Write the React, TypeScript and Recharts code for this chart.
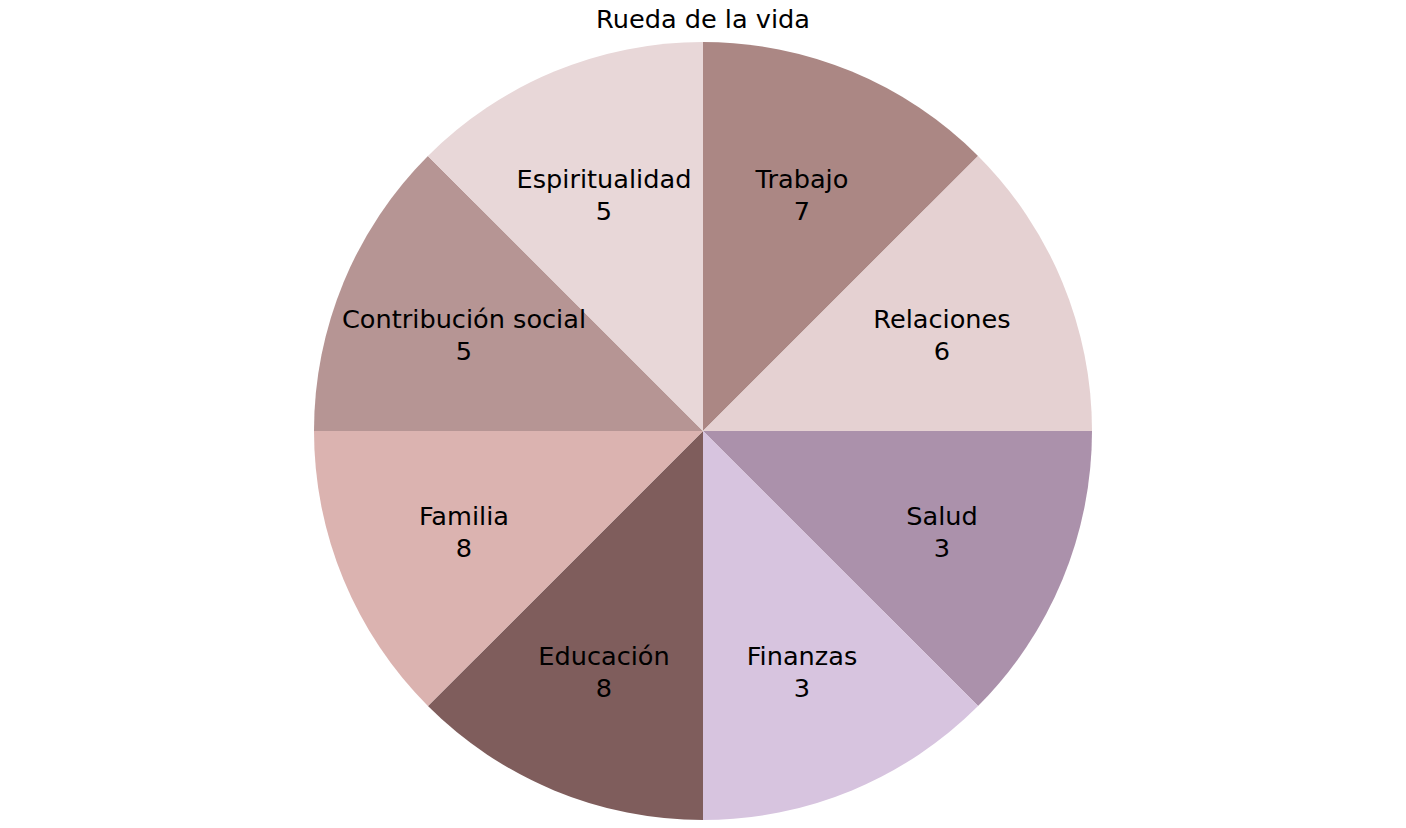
import React from "react";
import { PieChart, Pie, Cell } from "recharts";

const categories = [
  "Trabajo",
  "Relaciones",
  "Salud",
  "Finanzas",
  "Educación",
  "Familia",
  "Contribución social",
  "Espiritualidad",
];
const scores = [7, 6, 3, 3, 8, 8, 5, 5];
const sliceSizes = [1, 1, 1, 1, 1, 1, 1, 1];
const colors = [
  "#AB8784",
  "#E5D1D2",
  "#AB91AB",
  "#D7C4DF",
  "#7F5D5C",
  "#DBB3B0",
  "#B69594",
  "#E8D7D8",
];

const data = categories.map((name, i) => ({
  name,
  score: scores[i],
  size: sliceSizes[i],
}));

const RADIAN = Math.PI / 180;
const FONT = "'DejaVu Sans', Verdana, sans-serif";

const renderLabel = (props: any) => {
  const { cx, cy, midAngle, outerRadius, payload, index } = props;
  const r = outerRadius * 0.665;
  const x = cx + r * Math.cos(-midAngle * RADIAN);
  const y = cy + r * Math.sin(-midAngle * RADIAN) + 2.5;
  const d = payload && payload.payload ? payload.payload : payload;
  return (
    <text
      key={`lbl-${index}`}
      x={x}
      y={y}
      textAnchor="middle"
      fill="#000"
      fontFamily={FONT}
      fontSize={25.6}
    >
      <tspan x={x} y={y - 16} dominantBaseline="central">
        {d.name}
      </tspan>
      <tspan x={x} y={y + 16} dominantBaseline="central">
        {d.score}
      </tspan>
    </text>
  );
};

export default function App() {
  return (
    <div style={{ margin: -8, width: 1406, height: 828, background: "#fff" }}>
      <PieChart
        width={1406}
        height={828}
        margin={{ top: 0, right: 0, bottom: 0, left: 0 }}
      >
        <text
          x={703}
          y={19}
          textAnchor="middle"
          dominantBaseline="central"
          fontFamily={FONT}
          fontSize={25.6}
          fill="#000"
        >
          Rueda de la vida
        </text>
        <Pie
          data={data}
          dataKey="size"
          nameKey="name"
          cx={703}
          cy={431}
          outerRadius={389}
          startAngle={90}
          endAngle={-270}
          stroke="none"
          label={renderLabel}
          labelLine={false}
          isAnimationActive={false}
        >
          {data.map((d, i) => (
            <Cell key={d.name} fill={colors[i]} />
          ))}
        </Pie>
      </PieChart>
    </div>
  );
}
